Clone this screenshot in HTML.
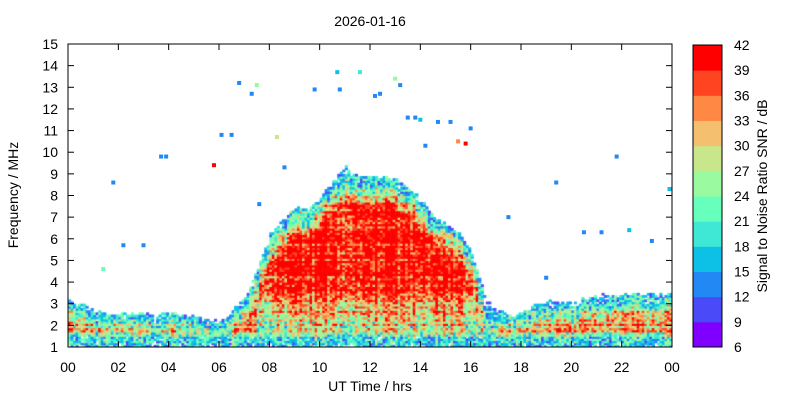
<!DOCTYPE html>
<html><head><meta charset="utf-8"><style>
body{margin:0;background:#fff;width:800px;height:400px;overflow:hidden;font-family:"Liberation Sans",sans-serif}
svg text{font-family:"Liberation Sans",sans-serif;fill:#000}
</style></head><body>
<div style="position:relative;width:800px;height:400px">
<canvas id="hm" width="604" height="303" style="position:absolute;left:68px;top:44px"></canvas>
<svg id="ov" width="800" height="400" style="position:absolute;left:0;top:0"></svg>
</div>
<script>
// data
const hours = [0,0.5,1,1.5,2,2.5,3,3.5,4,4.5,5,5.5,6,6.5,7,7.5,8,8.5,9,9.5,10,10.5,11,11.5,12,12.5,13,13.5,14,14.5,15,15.5,16,16.5,17,17.5,18,18.5,19,19.5,20,20.5,21,21.5,22,22.5,23,23.5];
const topFreq = [3.1,3.0,2.6,2.5,2.5,2.5,2.5,2.5,2.5,2.5,2.4,2.2,2.2,2.6,3.3,4.6,6.2,6.8,7.4,7.3,7.9,8.6,9.3,8.8,8.9,8.8,8.7,8.3,7.8,7.0,6.6,6.2,5.3,3.4,2.7,2.4,2.5,2.9,3.1,3.0,3.0,3.2,3.3,3.4,3.4,3.4,3.4,3.4];
const peakSnr = [32,32,31,31,31,31,31,31,31,31,30,30,31,33,36,39,41,41,41,41,41,41,41,41,41,41,41,41,41,41,41,41,40,38,34,31,31,32,33,33,33,33,33,33,33,33,33,33];
const dotT = [1.4,1.8,2.2,3.0,3.7,3.9,5.8,6.1,6.5,6.8,7.3,7.5,7.6,8.3,8.6,9.8,10.7,10.8,11.6,12.2,12.4,13.0,13.2,13.5,13.8,14.0,14.2,14.7,15.2,15.5,15.8,16.0,17.5,19.0,19.4,20.5,21.2,21.8,22.3,23.2,23.9];
const dotF = [4.6,8.6,5.7,5.7,9.8,9.8,9.4,10.8,10.8,13.2,12.7,13.1,7.6,10.7,9.3,12.9,13.7,12.9,13.7,12.6,12.7,13.4,13.1,11.6,11.6,11.5,10.3,11.4,11.4,10.5,10.4,11.1,7.0,4.2,8.6,6.3,6.3,9.8,6.4,5.9,8.3];
const dotS = [22,14,14,14,13,13,39,14,14,13,13,24,14,27,14,14,17,14,20,14,14,25,14,14,14,17,14,14,14,33,39,14,14,14,14,14,14,14,17,14,16];
const snrTicks = [6,9,12,15,18,21,24,27,30,33,36,39,42];
const bandColors = ["#7f00ff","#4a4af8","#2288f4","#0cc0e6","#3ee8d4","#66ffbb","#99fa9f","#c8e68a","#f4c070","#ff8844","#ff4422","#ff0000"];
const xTickLabels = ["00","02","04","06","08","10","12","14","16","18","20","22","00"];
const yTicks = [1,2,3,4,5,6,7,8,9,10,11,12,13,14,15];

const X0=68,X1=672,Y0=347,Y1=44;
const xs = h => X0 + h/24*(X1-X0);
const ys = f => Y0 - (f-1)/14*(Y0-Y1);
const colorOf = s => bandColors[Math.max(0,Math.min(11,Math.floor((s-6)/3)))];
function hash(a,b){let h=(a*374761393+b*668265263)|0;h=(h^(h>>>13))*1274126177|0;return ((h^(h>>>16))>>>0)/4294967296;}

// heatmap
const ctx=document.getElementById('hm').getContext('2d');
const dt=0.1, df=0.1;
for(let i=0;i<240;i++){
  const t=i*dt; const b=Math.min(47,Math.floor(t/0.5));
  const nb=Math.min(47,b+1); const fr=(t-hours[b])/0.5;
  const top=topFreq[b]*(1-fr)+topFreq[nb]*fr + (hash(i,7)-0.5)*0.15;
  const pk=peakSnr[b];
  const col=(hash(i,999)-0.5)*9;
  for(let j=0;j<140;j++){
    const f=1+j*df; if(f>top) continue;
    const d=top-f;
    let s=Math.min(pk, 14+d*18);
    if(pk>37 && f<3.8) s-= (3.8-f)*7;
    if(f<1.7) s=Math.min(s, 12+(f-1)*22);
    const row=(hash(j,555)-0.5)*9;
    s += (hash(i,j)-0.5)*16 + col + row;
    if(s<10) continue;
    ctx.fillStyle=colorOf(Math.min(41.9,s));
    ctx.fillRect(xs(t)-X0, ys(f+df)-Y1, (X1-X0)*dt/24+0.6, (Y0-Y1)*df/14+0.6);
  }
}

// overlay
const ov=document.getElementById('ov'); const NS="http://www.w3.org/2000/svg";
function mk(tag,attrs,parent){const e=document.createElementNS(NS,tag);for(const k in attrs)e.setAttribute(k,attrs[k]);(parent||ov).appendChild(e);return e;}
dotT.forEach((t,k)=>{
  const r=mk('rect',{x:xs(t)-2,y:ys(dotF[k])-2,width:4,height:4,fill:colorOf(dotS[k])});
  
  
});
const frame=mk('rect',{x:X0,y:Y1,width:X1-X0,height:Y0-Y1,fill:'none',stroke:'#000','stroke-width':1});


xTickLabels.forEach((l,k)=>{
  const x=xs(k*2);
  mk('line',{x1:x,x2:x,y1:Y0,y2:Y0-6,stroke:'#000'});
  mk('line',{x1:x,x2:x,y1:Y1,y2:Y1+6,stroke:'#000'});
  const t=mk('text',{x:x,y:372,'text-anchor':'middle','font-size':14});t.textContent=l;
  
  
});
yTicks.forEach(v=>{
  const y=ys(v);
  mk('line',{x1:X0,x2:X0+6,y1:y,y2:y,stroke:'#000'});
  mk('line',{x1:X1,x2:X1-6,y1:y,y2:y,stroke:'#000'});
  const t=mk('text',{x:58,y:y+5,'text-anchor':'end','font-size':14});t.textContent=v;
  
  
});
// colorbar
const CX=693,CW=29,CB=347,CT=45,bh=(CB-CT)/12;
bandColors.forEach((c,k)=>{
  const r=mk('rect',{x:CX,y:CB-(k+1)*bh,width:CW,height:bh+0.5,fill:c});
  
  
});
mk('rect',{x:CX,y:CT,width:CW,height:CB-CT,fill:'none',stroke:'#000'});
snrTicks.forEach((v,k)=>{
  const t=mk('text',{x:734,y:CB-k*bh+5,'font-size':14});t.textContent=v;
  
  
});
function txt(s,attrs,name){const t=mk('text',attrs);t.textContent=s;}
txt('2026-01-16',{x:370,y:26,'text-anchor':'middle','font-size':14},'chart-title');
txt('UT Time / hrs',{x:370,y:391,'text-anchor':'middle','font-size':14},'x-axis-title');
txt('Frequency / MHz',{x:18,y:195,'text-anchor':'middle','font-size':14,transform:'rotate(-90 18 195)'},'y-axis-title');
txt('Signal to Noise Ratio SNR / dB',{x:767,y:196,'text-anchor':'middle','font-size':14,transform:'rotate(-90 767 196)'},'colorbar-title');
</script>
</body></html>
